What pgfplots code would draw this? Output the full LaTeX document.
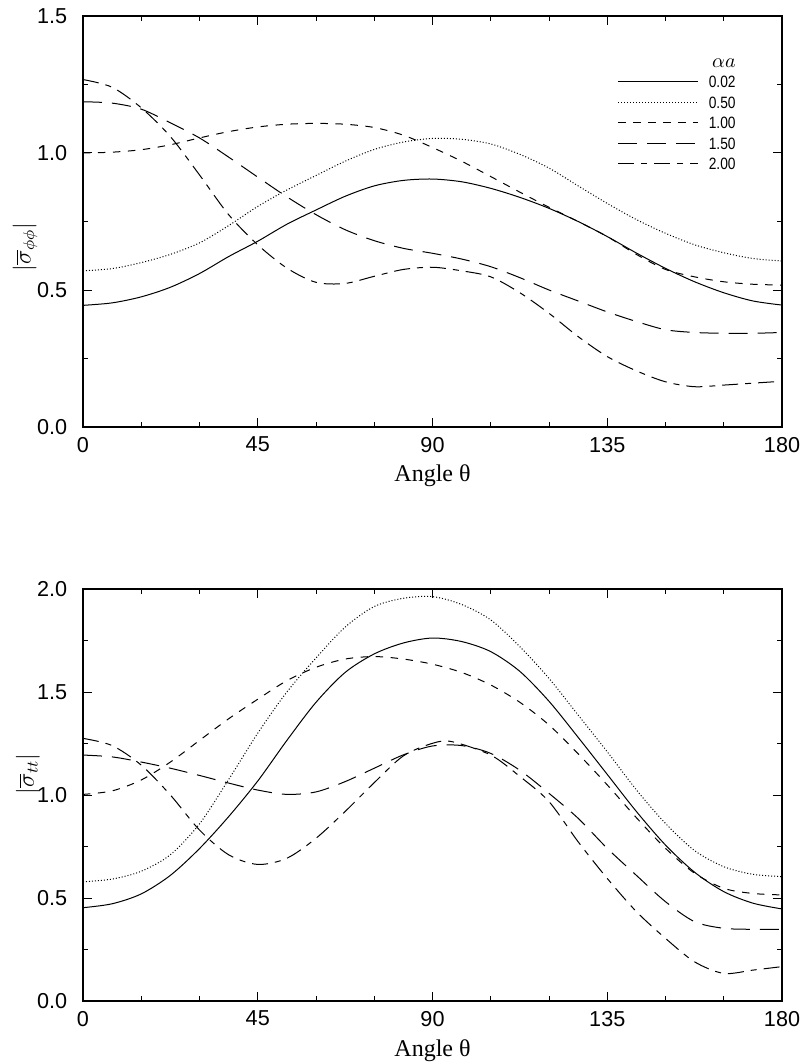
\documentclass[border=0pt]{standalone}
\usepackage{fontspec}
\setmainfont{Liberation Serif}
\newfontfamily\helv{Liberation Sans}
\usepackage{graphicx}
\usepackage{pgfplots}
\pgfplotsset{compat=1.18}

\newcommand{\legtxt}[1]{\scalebox{0.84}[1]{#1}}

\pgfplotsset{
  panel/.style={
    scale only axis, width=349.5pt,
    xmin=0, xmax=180, xtick={0,45,90,135,180}, minor x tick num=2,
    ymin=0, minor y tick num=1,
    tick align=inside, major tick length=4.5pt, minor tick length=2.3pt,
    axis line style={line width=0.6pt},
    every tick/.style={black, line width=0.5pt},
    tick label style={font=\helv\fontsize{10.8}{13}\selectfont},
    /pgf/number format/assume math mode=true,
    yticklabel style={/pgf/number format/fixed, /pgf/number format/fixed zerofill,
      /pgf/number format/precision=1, xshift=-4.4pt},
    xticklabel style={yshift=-1.5pt},
    xlabel={Angle θ},
    xlabel style={font=\fontsize{12}{14}\selectfont, at={(axis description cs:0.5,-0.1195)}, anchor=center},
    ylabel style={font=\fontsize{12}{14}\selectfont, anchor=center},
  },
  s002/.style={black, line width=0.5pt, smooth},
  s050/.style={black, line width=0.5pt, smooth, dash pattern=on 0.5pt off 1pt},
  s100/.style={black, line width=0.5pt, smooth, dash pattern=on 3.7pt off 3.8pt},
  s150/.style={black, line width=0.5pt, smooth, dash pattern=on 9.5pt off 5pt},
  s200/.style={black, line width=0.5pt, smooth, dash pattern=on 8pt off 3.5pt on 3pt off 3.5pt},
}

\begin{document}
\begin{tikzpicture}
\useasboundingbox (0pt,0pt) rectangle (400.5pt,-531.5pt);

% upper panel: sigma_phiphi
\begin{axis}[panel,
    at={(41.5pt,-213.5pt)}, anchor=south west, height=205.5pt,
    ymax=1.5, ytick={0,0.5,1,1.5},
    ylabel={$|\overline{\sigma}_{\phi\phi}|$},
    ylabel style={at={(axis description cs:-0.083,0.438)}},
    legend cell align=right,
    legend style={at={(axis description cs:1,1)}, anchor=north east,
      xshift=-23pt, yshift=-19.5pt, draw=none, fill=none, inner sep=0pt,
      row sep=4.35pt, column sep=5pt,
      nodes={inner sep=0pt, text height=5.9pt, text depth=0pt,
        font=\helv\fontsize{8.2}{10}\selectfont}},
    legend image code/.code={\draw[#1] (0pt,0pt) -- (40pt,0pt);},
]
\addlegendimage{empty legend}
\addlegendentry{\fontsize{10}{12}\selectfont$\alpha a$}
\addplot[s002] coordinates {(0,0.444)(7.5,0.453)(15,0.475)(22.5,0.51)(30,0.56)(37.5,0.622)(45,0.678)(52.5,0.74)(60,0.792)(67.5,0.842)(75,0.88)(82.5,0.9)(90,0.905)(97.5,0.895)(105,0.871)(112.5,0.838)(120,0.798)(127.5,0.75)(135,0.695)(142.5,0.635)(150,0.579)(157.5,0.53)(165,0.49)(172.5,0.46)(180,0.445)};
\addlegendentry{\legtxt{0.02}}
\addplot[s050] coordinates {(0,0.57)(7.5,0.578)(15,0.6)(22.5,0.63)(30,0.672)(37.5,0.735)(45,0.805)(52.5,0.865)(60,0.918)(67.5,0.97)(75,1.013)(82.5,1.04)(90,1.053)(97.5,1.05)(105,1.033)(112.5,0.995)(120,0.945)(127.5,0.88)(135,0.816)(142.5,0.757)(150,0.707)(157.5,0.665)(165,0.636)(172.5,0.615)(180,0.606)};
\addlegendentry{\legtxt{0.50}}
\addplot[s100] coordinates {(0,1.0)(7.5,1.003)(15,1.012)(22.5,1.03)(30,1.055)(37.5,1.078)(45,1.095)(52.5,1.105)(60,1.108)(67.5,1.105)(75,1.093)(82.5,1.065)(90,1.02)(97.5,0.97)(105,0.914)(112.5,0.857)(120,0.802)(127.5,0.75)(135,0.695)(142.5,0.63)(150,0.575)(157.5,0.548)(165,0.53)(172.5,0.521)(180,0.518)};
\addlegendentry{\legtxt{1.00}}
\addplot[s150] coordinates {(0,1.187)(7.5,1.182)(15,1.16)(22.5,1.11)(30,1.055)(37.5,0.985)(45,0.912)(52.5,0.84)(60,0.775)(67.5,0.72)(75,0.68)(82.5,0.652)(90,0.634)(97.5,0.613)(105,0.585)(112.5,0.545)(120,0.5)(127.5,0.46)(135,0.42)(142.5,0.385)(150,0.355)(157.5,0.345)(165,0.342)(172.5,0.342)(180,0.345)};
\addlegendentry{\legtxt{1.50}}
\addplot[s200] coordinates {(0,1.268)(7.5,1.24)(15,1.165)(22.5,1.06)(30,0.92)(37.5,0.775)(45,0.665)(52.5,0.58)(60,0.528)(67.5,0.524)(75,0.55)(82.5,0.575)(90,0.583)(97.5,0.57)(105,0.548)(112.5,0.49)(120,0.415)(127.5,0.33)(135,0.257)(142.5,0.205)(150,0.165)(157.5,0.147)(165,0.153)(172.5,0.16)(180,0.167)};
\addlegendentry{\legtxt{2.00}}
\end{axis}

% lower panel: sigma_tt
\begin{axis}[panel,
    at={(41.5pt,-500.5pt)}, anchor=south west, height=206pt,
    ymax=2, ytick={0,0.5,1,1.5,2},
    ylabel={$|\overline{\sigma}_{tt}|$},
    ylabel style={at={(axis description cs:-0.0787,0.551)}},
]
\addplot[s002] coordinates {(0,0.453)(7.5,0.472)(15,0.52)(22.5,0.61)(30,0.74)(37.5,0.895)(45,1.068)(52.5,1.265)(60,1.45)(67.5,1.595)(75,1.685)(82.5,1.738)(90,1.762)(97.5,1.745)(105,1.696)(112.5,1.6)(120,1.455)(127.5,1.28)(135,1.1)(142.5,0.92)(150,0.757)(157.5,0.625)(165,0.531)(172.5,0.475)(180,0.447)};
\addplot[s050] coordinates {(0,0.579)(7.5,0.592)(15,0.63)(22.5,0.71)(30,0.86)(37.5,1.075)(45,1.3)(52.5,1.5)(60,1.665)(67.5,1.815)(75,1.915)(82.5,1.955)(90,1.963)(97.5,1.925)(105,1.85)(112.5,1.72)(120,1.566)(127.5,1.388)(135,1.21)(142.5,1.025)(150,0.862)(157.5,0.73)(165,0.652)(172.5,0.615)(180,0.604)};
\addplot[s100] coordinates {(0,1.003)(7.5,1.02)(15,1.073)(22.5,1.16)(30,1.265)(37.5,1.37)(45,1.465)(52.5,1.555)(60,1.62)(67.5,1.66)(75,1.672)(82.5,1.66)(90,1.635)(97.5,1.595)(105,1.534)(112.5,1.45)(120,1.34)(127.5,1.2)(135,1.049)(142.5,0.89)(150,0.741)(157.5,0.62)(165,0.547)(172.5,0.522)(180,0.515)};
\addplot[s150] coordinates {(0,1.194)(7.5,1.185)(15,1.16)(22.5,1.13)(30,1.095)(37.5,1.058)(45,1.024)(52.5,1.003)(60,1.015)(67.5,1.065)(75,1.13)(82.5,1.195)(90,1.238)(97.5,1.24)(105,1.202)(112.5,1.12)(120,1.008)(127.5,0.887)(135,0.741)(142.5,0.61)(150,0.482)(157.5,0.385)(165,0.353)(172.5,0.348)(180,0.348)};
\addplot[s200] coordinates {(0,1.275)(7.5,1.24)(15,1.145)(22.5,1.0)(30,0.83)(37.5,0.71)(45,0.663)(52.5,0.693)(60,0.79)(67.5,0.92)(75,1.06)(82.5,1.19)(90,1.251)(95,1.259)(105,1.194)(112.5,1.09)(120,0.968)(127.5,0.773)(135,0.595)(142.5,0.434)(150,0.304)(157.5,0.19)(165,0.134)(172.5,0.15)(180,0.167)};
\end{axis}
\end{tikzpicture}
\end{document}
